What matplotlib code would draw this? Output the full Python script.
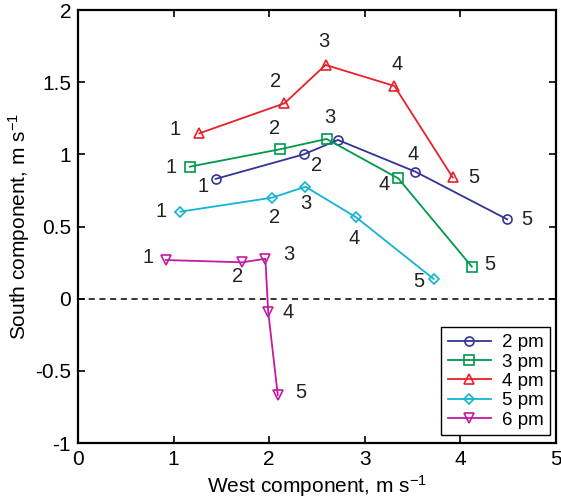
import matplotlib
matplotlib.use("Agg")
import matplotlib.pyplot as plt

plt.rcParams['font.family'] = ['Liberation Sans', 'DejaVu Sans']
plt.rcParams['mathtext.default'] = 'regular'

# wind components (west, south) in m/s, points 1..5 for each hour
series_names = ['2 pm', '3 pm', '4 pm', '5 pm', '6 pm']
west = [
    [1.44, 2.36, 2.72, 3.53, 4.49],
    [1.17, 2.11, 2.60, 3.35, 4.12],
    [1.27, 2.16, 2.59, 3.31, 3.92],
    [1.07, 2.03, 2.38, 2.91, 3.72],
    [0.92, 1.72, 1.96, 1.99, 2.09],
]
south = [
    [0.83, 1.00, 1.10, 0.88, 0.55],
    [0.915, 1.035, 1.107, 0.834, 0.222],
    [1.146, 1.354, 1.62, 1.474, 0.84],
    [0.603, 0.70, 0.776, 0.564, 0.137],
    [0.268, 0.252, 0.277, -0.09, -0.667],
]
point_labels = ['1', '2', '3', '4', '5']

colors = ['#33339a', '#00994c', '#e8202a', '#13b3d4', '#c41aa0']
markers = ['o', 's', '^', 'D', 'v']
msizes = [6.5, 6.5, 7, 5.5, 7]

# label offsets in pixels (dx, dy) from each point; None = label shared with another series
offsets = [
    [(-13, -8), (13, -11), None, (-2, 17), (20, 0)],
    [(-19, -1), (-5, 21), (3, 21), (-14, -6), (18, 2)],
    [(-24, 4), (-9, 22), (-2, 23), (3, 21), (21, 0)],
    [(-19, 0), (3, -20), (0, -17), (-2, -21), (-15, -3)],
    [(-18, 3), (-5, -14), (23, 4), (20, -1), (23, 2)],
]

fig = plt.figure(figsize=(5.61, 5.04), dpi=100)
ax = fig.add_axes([0.139, 0.121, 0.852, 0.859])

for i, name in enumerate(series_names):
    ax.plot(west[i], south[i], color=colors[i], marker=markers[i],
            markersize=msizes[i], markerfacecolor='none', markeredgewidth=1.2,
            linewidth=1.3, label=name)
    for j, lab in enumerate(point_labels):
        if offsets[i][j] is None:
            continue
        ax.annotate(lab, (west[i][j], south[i][j]), xytext=offsets[i][j],
                    textcoords='offset pixels', ha='center', va='center',
                    fontsize=14.5, color='#222222')

ax.axhline(0, color='black', linestyle=(0, (4, 3)), linewidth=1.1)

ax.set_xlim(0, 5)
ax.set_ylim(-1, 2)
ax.set_xticks([0, 1, 2, 3, 4, 5])
ax.set_yticks([-1, -0.5, 0, 0.5, 1, 1.5, 2])
ax.set_yticklabels(['-1', '-0.5', '0', '0.5', '1', '1.5', '2'])
ax.tick_params(direction='in', top=True, right=True, length=5, width=1.2,
               labelsize=15, pad=5)
for sp in ax.spines.values():
    sp.set_linewidth(1.6)

ax.set_xlabel('West component, m s$^{-1}$', fontsize=15, labelpad=3)
ax.set_ylabel('South component, m s$^{-1}$', fontsize=15, labelpad=2)

leg = ax.legend(loc='lower right', bbox_to_anchor=(0.988, 0.018),
                borderaxespad=0, fontsize=13.5, fancybox=False,
                edgecolor='black', framealpha=1, handlelength=2.3,
                labelspacing=0.12, borderpad=0.35, handletextpad=0.6)
leg.get_frame().set_linewidth(1.0)

fig.savefig('out.png', dpi=100)
